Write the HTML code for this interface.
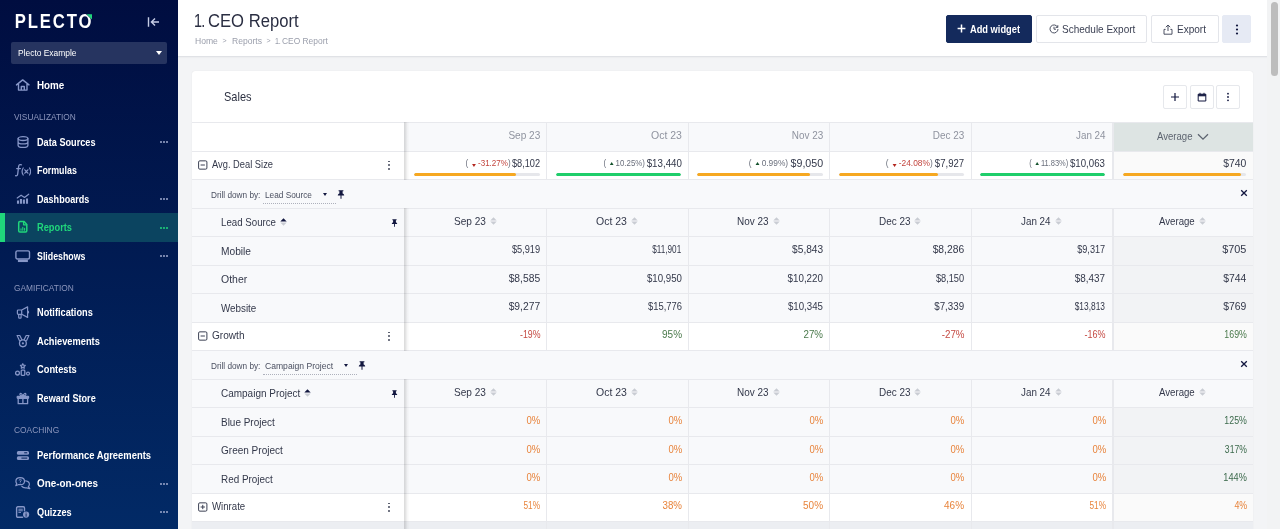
<!DOCTYPE html>
<html lang="en">
<head>
<meta charset="utf-8">
<title>1. CEO Report</title>
<style>
*{box-sizing:border-box;margin:0;padding:0}
html,body{width:1280px;height:529px;overflow:hidden;background:#f3f4f6;font-family:"Liberation Sans",sans-serif;color:#2d3142}
.abs{position:absolute}
#side{position:absolute;left:0;top:0;width:178px;height:529px;background:linear-gradient(180deg,#000d40 0%,#022a66 100%);color:#fff}
#side .logo{position:absolute;left:15px;top:10px;font-size:19px;font-weight:bold;letter-spacing:2.2px;line-height:22px;color:#fff}
#side .sel{position:absolute;left:11px;top:42px;width:156px;height:22px;background:#263460;border-radius:2px;font-size:9px;line-height:22px;padding-left:7px;color:#fff;letter-spacing:-0.2px}
#side .sel:after{content:"";position:absolute;right:5px;top:9px;border:3.5px solid transparent;border-top:4px solid #fff}
.nav{position:absolute;left:0;width:178px;height:28.5px;line-height:28.5px;font-size:10.5px;font-weight:bold;color:#fff;padding-left:37px;letter-spacing:-0.35px;white-space:nowrap}
.nav.act{background:#0b4460;color:#20d67b}
.nav.act:before{content:"";position:absolute;left:0;top:0;width:4.6px;height:28.5px;background:#20d67b}
.nav .dots{position:absolute;left:159.5px;top:13.3px;width:9px;height:2px;display:flex;gap:1.2px}
.nav .dots i{display:block;width:2px;height:2px;border-radius:1px;background:#9ea8cc}
.nav.act .dots i{background:#20d67b}
.nav svg{position:absolute;left:15px;top:6px;width:16px;height:16px;fill:none;stroke:#8797c8;stroke-width:1.3;stroke-linecap:round;stroke-linejoin:round}
.nav.act svg{stroke:#20d67b}
.sec{position:absolute;left:14px;font-size:9.3px;color:#8d97bd;letter-spacing:-0.3px;line-height:12px}
#top{position:absolute;left:178px;top:0;width:1089px;height:57px;background:#fff;border-bottom:1px solid #e0e2e6;box-shadow:0 1px 1px rgba(0,0,0,.025)}
#top h1{position:absolute;left:17px;top:10px;font-size:18px;font-weight:normal;line-height:22px;color:#2a2e42;letter-spacing:-0.3px}
#top .bc{position:absolute;left:17px;top:35px;font-size:9px;line-height:12px;color:#9a9eab;letter-spacing:0;white-space:nowrap}
.btn{position:absolute;top:14.5px;height:28px;border:1px solid #e3e5ea;border-radius:2px;background:#fff;font-size:11px;line-height:26px;color:#3a3f52;text-align:center;white-space:nowrap}
#scroll{position:absolute;left:1267px;top:0;width:13px;height:529px;background:#f2f3f4}
#scroll i{position:absolute;left:4.1px;top:2.2px;width:7.2px;height:74.2px;border-radius:4px;background:#bdbdbd}
#card{position:absolute;left:192px;top:71px;width:1061px;height:470px;background:#fff;border-radius:3px;box-shadow:0 0 1px rgba(0,0,0,.12)}
.row{position:absolute;left:0;width:1061px;border-top:1px solid #e8e9ed}
.vl{position:absolute;width:1px;background:#e8e9ed}
.t{position:absolute;font-size:10.5px;line-height:14px;white-space:nowrap;color:#33384a;letter-spacing:-0.3px}
.t.hd{color:#8f939f}
.t.hd2{color:#5d6470}
.t.v{font-size:10.5px}
.t.dd{font-size:9px;color:#4a4f60;letter-spacing:-0.3px}
.t.dl{font-size:8.5px;color:#6a6f7c}
.tri{display:inline-block;width:0;height:0;border:2.8px solid transparent;margin:0 2.5px 0 1.5px;position:relative}
.tri.dn{border-top:3.4px solid #b3261e;top:2.4px}
.tri.up{border-bottom:3.4px solid #14532d;top:-1px}
.kebab{position:absolute;width:2px;height:10px}
.kebab i{display:block;width:1.9px;height:1.9px;border-radius:1px;background:#454a5c;margin-bottom:1.9px}
.bar{position:absolute;height:3px;border-radius:2px;background:#e6e7eb;overflow:hidden}
.bar i{display:block;height:3px;border-radius:2px}
.cb{position:absolute;top:13.5px;width:24px;height:24px;border:1px solid #e6e8ec;border-radius:2px;background:#fff}
.cb svg{position:absolute;left:6px;top:6px}

span[id^=t]{display:inline-block;transform-origin:0 50%;white-space:nowrap}

</style>
</head>
<body>
<div id="side">
<svg class="abs" style="left:13.800px;top:9.700px" width="84" height="24" viewBox="0 0 84 24"><text transform="translate(.8 18.400) scale(.86 1)" font-family="Liberation Sans, sans-serif" font-weight="bold" font-size="19.400" letter-spacing="2.150" fill="#fff">PLECTO</text><path d="M71.500 3.400h7.200v7.200z" fill="#010f43"/><path d="M72.600 4.200h5.400v5.400z" fill="#20d67b"/></svg>
<svg class="abs" style="left:147px;top:16px" width="13" height="12" viewBox="0 0 13 12"><path d="M1.500 1.200v9.600M12 6H4.600M8 2.400L4.400 6 8 9.600" fill="none" stroke="#c6cde6" stroke-width="1.400"/></svg>
<div class="sel"><span id="t1" style=";letter-spacing:0;transform:scaleX(0.9355)">Plecto Example</span></div>
<div class="nav" style="top:70.75px"><svg viewBox="0 0 16 16"><path d="M1.500 7.900L7.700 2.900l6.300 5M3.500 7v6.100h8.500V7M6.300 13V9.500h3v3.500" stroke-width="1.400"/></svg><span id="t2" style=";letter-spacing:0;transform:scaleX(0.9353)">Home</span></div>
<div class="sec" style="top:111.3px"><span id="t3" style=";letter-spacing:0;transform:scaleX(0.8948)">VISUALIZATION</span></div>
<div class="nav" style="top:127.75px"><svg viewBox="0 0 16 16"><ellipse cx="8" cy="4.600" rx="4.900" ry="1.900"/><path d="M3.100 4.600v6.800c0 1.100 2.200 1.900 4.900 1.900s4.900-.8 4.900-1.900V4.600M3.100 8c0 1.100 2.200 1.900 4.900 1.900s4.900-.8 4.900-1.900"/></svg><span id="t4" style=";letter-spacing:0;transform:scaleX(0.8715)">Data Sources</span><span class="dots"><i></i><i></i><i></i></span></div>
<div class="nav" style="top:156.25px"><svg viewBox="0 0 16 16"><path d="M6.400 2.800c-1.700-.7-2.600.2-2.800 1.800L2.700 12c-.2 1.500-1 2.100-2.100 1.700M1.700 6.600h3.700" stroke-width="1.300"/><path d="M8.200 6c-1.300 2-1.300 5 0 7M14.500 6c1.300 2 1.300 5 0 7M9.800 7.800l3.100 3.400M12.900 7.800l-3.100 3.400" stroke-width="1.200"/></svg><span id="t5" style=";letter-spacing:0;transform:scaleX(0.8420)">Formulas</span></div>
<div class="nav" style="top:184.75px"><svg viewBox="0 0 16 16"><path d="M2.200 7l3.900-2.800 3.400 2.200 4.200-3.200" stroke-width="1.200"/><path d="M3 9.600v3.200M5.950 8v4.800M8.900 8.600v4.200M12 7.500v5.300" stroke-width="2.100" stroke-linecap="butt"/></svg><span id="t6" style=";letter-spacing:0;transform:scaleX(0.8618)">Dashboards</span><span class="dots"><i></i><i></i><i></i></span></div>
<div class="nav act" style="top:213.25px"><svg viewBox="0 0 16 16"><path d="M3.700 3.800c0-.7.500-1.200 1.200-1.200h4.200l2.700 2.800v6.400c0 .7-.5 1.200-1.200 1.200H4.900c-.7 0-1.200-.5-1.200-1.200z" stroke-width="1.500"/><path d="M8.600 2.800v3h3" stroke-width="1.300"/><path d="M6 11.300V9.800M7.800 11.300V8.400M9.600 11.300v-1.900" stroke-width="1.100"/></svg><span id="t7" style=";letter-spacing:0;transform:scaleX(0.8819)">Reports</span><span class="dots"><i></i><i></i><i></i></span></div>
<div class="nav" style="top:241.75px"><svg viewBox="0 0 16 16"><rect x=".9" y="2.850" width="13.600" height="8.200" rx="1.500" stroke-width="1.400"/><path d="M2.900 12.900h10" stroke-width="2.300" stroke-linecap="butt"/></svg><span id="t8" style=";letter-spacing:0;transform:scaleX(0.8396)">Slideshows</span><span class="dots"><i></i><i></i><i></i></span></div>
<div class="sec" style="top:282.3px"><span id="t9" style=";letter-spacing:0;transform:scaleX(0.8997)">GAMIFICATION</span></div>
<div class="nav" style="top:298.25px"><svg viewBox="0 0 16 16"><path d="M3.200 6h3.500v4.300H3.200c-.5 0-.8-.3-.8-.8V6.800c0-.5.300-.8.800-.8zM6.700 6l5.900-3.100v10.500L6.700 10.300M3.700 10.500v3.100c0 .4.300.6.600.6h1.200c.4 0 .6-.2.600-.6v-3.100M12.800 7.200c1 .1 1 1.800 0 1.900" stroke-width="1.200"/></svg><span id="t10" style=";letter-spacing:0;transform:scaleX(0.8774)">Notifications</span></div>
<div class="nav" style="top:326.75px"><svg viewBox="0 0 16 16"><circle cx="7.900" cy="10.350" r="3.400" stroke-width="1.300"/><path d="M2.100 2.500h2.700l2 3.900M13.900 2.500h-2.700l-2 3.900M2.100 2.500l2.300 5M13.900 2.500l-2.300 5" stroke-width="1.200"/><circle cx="7.900" cy="10.350" r="1.100" fill="#8797c8" stroke="none"/></svg><span id="t11" style=";letter-spacing:0;transform:scaleX(0.8820)">Achievements</span></div>
<div class="nav" style="top:355.25px"><svg viewBox="0 0 16 16"><path d="M7.800 2.700l.75 1.500 1.650.25-1.200 1.150.3 1.650L7.800 6.450 6.300 7.250l.3-1.650L5.400 4.450l1.650-.25z" stroke-width="1.200"/><rect x="6.200" y="9.100" width="3.600" height="5.300" rx=".8" stroke-width="1.300"/><circle cx="2.500" cy="12.100" r="1.900" stroke-width="1.300"/><circle cx="13" cy="12.600" r="1.500" stroke-width="1.200"/></svg><span id="t12" style=";letter-spacing:0;transform:scaleX(0.8857)">Contests</span></div>
<div class="nav" style="top:383.75px"><svg viewBox="0 0 16 16"><rect x="2.200" y="6.300" width="11.400" height="2" rx=".5" stroke-width="1.200" fill="#8797c8"/><path d="M3.200 8.300v5.400h9.400V8.300M7.900 6.300v7.400" stroke-width="1.300"/><path d="M7.900 6.100C6 6.100 4.700 5.300 4.900 4.200 5.100 3 6.800 2.800 7.900 6.100zM7.900 6.100c1.900 0 3.200-.8 3-1.900C10.700 3 9 2.800 7.900 6.100z" stroke-width="1.200"/></svg><span id="t13" style=";letter-spacing:0;transform:scaleX(0.8672)">Reward Store</span></div>
<div class="sec" style="top:424.3px"><span id="t14" style=";letter-spacing:0;transform:scaleX(0.9020)">COACHING</span></div>
<div class="nav" style="top:440.75px"><svg viewBox="0 0 16 16"><rect x="1.900" y="3.950" width="12.100" height="3.700" rx="1.500" fill="#8797c8" stroke="none"/><rect x="1.900" y="9.250" width="12.100" height="3.700" rx="1.500" fill="#8797c8" stroke="none"/><path d="M9.600 5.800h2.200M6.800 11.100h5" stroke="#02205a" stroke-width="1"/></svg><span id="t15" style=";letter-spacing:0;transform:scaleX(0.8947)">Performance Agreements</span></div>
<div class="nav" style="top:469.25px"><svg viewBox="0 0 16 16"><path d="M.9 6.200c0-2 1.900-3.500 4.300-3.500s4.300 1.500 4.300 3.500-1.900 3.500-4.300 3.500c-.6 0-1.100-.1-1.600-.2L.8 10.700l.9-2.200C1.200 7.900.9 7.100.9 6.200z" stroke-width="1.200"/><path d="M10.600 5.800c2.100.2 3.800 1.700 3.800 3.500 0 1-.4 1.800-1.100 2.400l1.500 2-3.300-.9c-.4.100-.8.100-1.200.1-1.600 0-2.900-.7-3.600-1.700" stroke-width="1.200"/><path d="M4.200 5.200c0-.6.500-1 1.100-1s1.100.4 1 1c-.1.700-1.100.8-1.100 1.500M5.200 7.900v.1" stroke-width=".9"/></svg><span id="t16" style=";letter-spacing:0;transform:scaleX(0.9421)">One-on-ones</span><span class="dots"><i></i><i></i><i></i></span></div>
<div class="nav" style="top:497.75px"><svg viewBox="0 0 16 16"><path d="M7.600 13.300H2.800c-.7 0-1.200-.5-1.200-1.200V4c0-.7.500-1.200 1.200-1.200h5.500c.7 0 1.200.5 1.200 1.200v2.800" stroke-width="1.400"/><path d="M3.800 5.200h3.600M3.800 6.800h3.600M3.800 8.400h1.800" stroke-width="1"/><circle cx="11.100" cy="10.600" r="3.100" fill="#8797c8" stroke="none"/><path d="M11.100 9v.1M11.100 10.300v2" stroke="#02205a" stroke-width=".9"/></svg><span id="t17" style=";letter-spacing:0;transform:scaleX(0.8743)">Quizzes</span><span class="dots"><i></i><i></i><i></i></span></div>
</div>
<div id="top">
<h1><span id="t18" style="position:absolute;left:-1.100px;letter-spacing:-1.100px;transform:scaleX(.8)">1.</span><span id="t19" style="position:absolute;left:12.800px;letter-spacing:0;transform:scaleX(0.9240)">CEO Report</span></h1>
<div class="bc"><span id="t20" style="position:absolute;left:0;letter-spacing:0;transform:scaleX(0.9535)">Home</span><span id="t21" style="position:absolute;left:27.500px;font-size:7px">&gt;</span><span id="t22" style="position:absolute;left:37px;letter-spacing:0;transform:scaleX(0.9519)">Reports</span><span id="t23" style="position:absolute;left:71.500px;font-size:7px">&gt;</span><span id="t24" style="position:absolute;left:80.200px;letter-spacing:-.4px;transform:scaleX(.8)">1.</span><span id="t25" style="position:absolute;left:86.900px;letter-spacing:0;transform:scaleX(0.9341)">CEO Report</span></div>
<div class="btn" style="left:767.500px;width:86.500px;background:#142a5c;border-color:#142a5c;color:#fff;font-weight:bold"><svg class="abs" style="left:10px;top:8.500px" width="9" height="9" viewBox="0 0 9 9"><path d="M4.500 .6v7.800M.6 4.500h7.800" stroke="#fff" stroke-width="1.500" fill="none"/></svg><span id="t26" style="position:absolute;left:23.800px;top:0;letter-spacing:0;transform:scaleX(0.8434)">Add widget</span></div>
<div class="btn" style="left:858px;width:111px"><svg class="abs" style="left:12px;top:8.500px" width="10" height="10" viewBox="0 0 10 10"><path d="M8.600 3.200A4 4 0 1 0 9 5M5 2.800V5.200h2M8.800 1.200v2.200H6.600" stroke="#3a3f52" stroke-width=".9" fill="none"/></svg><span id="t27" style="position:absolute;left:24.700px;top:0;letter-spacing:0;transform:scaleX(0.9081)">Schedule Export</span></div>
<div class="btn" style="left:972.500px;width:68.500px"><svg class="abs" style="left:11.500px;top:8px" width="10" height="11" viewBox="0 0 10 11"><path d="M5 7V1.200M2.800 3.200L5 1l2.200 2.200M2.600 5.400H1v4.800h8V5.400H7.400" stroke="#3a3f52" stroke-width=".9" fill="none"/></svg><span id="t28" style="position:absolute;left:25.500px;top:0;letter-spacing:0;transform:scaleX(0.9120)">Export</span></div>
<div class="btn" style="left:1044px;width:28.500px;background:#e6eaf4;border-color:#e6eaf4"><svg class="abs" style="left:11.500px;top:8px" width="4" height="11" viewBox="0 0 4 11"><circle cx="2" cy="1.500" r="1.100" fill="#12173f"/><circle cx="2" cy="5.500" r="1.100" fill="#12173f"/><circle cx="2" cy="9.500" r="1.100" fill="#12173f"/></svg></div>
</div>
<div id="scroll"><i></i></div>
<div id="card">
<div class="t" style="left:32px;top:17.600px;font-size:13px;line-height:16px;color:#2d3142"><span id="t121" style=";letter-spacing:0;transform:scaleX(0.8453)">Sales</span></div>
<div class="cb" style="left:971px"><svg width="10" height="10" viewBox="0 0 10 10"><path d="M5 1v8M1 5h8" stroke="#12173f" stroke-width="1.200" fill="none"/></svg></div>
<div class="cb" style="left:997.800px"><svg width="10" height="10" viewBox="0 0 10 10"><path d="M1.200 2.200h7.600v6.800H1.200zM1.200 3.800h7.600M3 .8v1.800M7 .8v1.800" stroke="#12173f" stroke-width="1" fill="none"/><path d="M1.200 2.200h7.600v1.600H1.200z" fill="#12173f"/></svg></div>
<div class="cb" style="left:1024px"><svg width="10" height="10" viewBox="0 0 10 10"><circle cx="5" cy="1.700" r=".9" fill="#12173f"/><circle cx="5" cy="5" r=".9" fill="#12173f"/><circle cx="5" cy="8.300" r=".9" fill="#12173f"/></svg></div>

<div class="row" style="top:51.0px;height:28.5px;background:#f8f9fb"></div>
<div class="abs" style="left:0;top:52.0px;width:212px;height:27.5px;background:#fff"></div>
<div class="abs" style="left:921.9000000000001px;top:52.0px;width:139.0999999999999px;height:27.5px;background:#dde4e3"></div>
<div class="vl" style="left:354.1px;top:51.0px;height:28.5px"></div>
<div class="vl" style="left:495.6px;top:51.0px;height:28.5px"></div>
<div class="vl" style="left:637.1px;top:51.0px;height:28.5px"></div>
<div class="vl" style="left:778.6px;top:51.0px;height:28.5px"></div>
<div class="vl" style="left:920.1px;top:51.0px;height:28.5px;width:1.800px"></div>
<div id="t29" class="t hd" style="right:712.6px;transform-origin:100% 50%;top:57.0px;;letter-spacing:0;transform:scaleX(0.9585)">Sep 23</div>
<div id="t30" class="t hd" style="right:571.2px;transform-origin:100% 50%;top:57.0px;;letter-spacing:0;transform:scaleX(0.9988)">Oct 23</div>
<div id="t31" class="t hd" style="right:429.9000000000001px;transform-origin:100% 50%;top:57.0px;;letter-spacing:0;transform:scaleX(0.9465)">Nov 23</div>
<div id="t32" class="t hd" style="right:288.6px;transform-origin:100% 50%;top:57.0px;;letter-spacing:0;transform:scaleX(0.9465)">Dec 23</div>
<div id="t33" class="t hd" style="right:147.4000000000001px;transform-origin:100% 50%;top:57.0px;;letter-spacing:0;transform:scaleX(0.9356)">Jan 24</div>
<div id="t34" class="t hd2" style="left:965px;transform-origin:0 50%;top:57.80000000000001px;;letter-spacing:0;transform:scaleX(0.9121)">Average</div>
<svg class="abs" style="left:1004.5px;top:61.5px" width="12" height="8" viewBox="0 0 12 8"><path d="M1 1.200L6 6.200L11 1.200" fill="none" stroke="#5d6470" stroke-width="1.300"/></svg>
<div class="row" style="top:79.5px;height:28.5px;background:#fff"></div>
<div class="abs" style="left:921.9000000000001px;top:80.5px;width:139.0999999999999px;height:27.5px;background:#fafafa"></div>
<div class="vl" style="left:354.1px;top:79.5px;height:28.5px"></div>
<div class="vl" style="left:495.6px;top:79.5px;height:28.5px"></div>
<div class="vl" style="left:637.1px;top:79.5px;height:28.5px"></div>
<div class="vl" style="left:778.6px;top:79.5px;height:28.5px"></div>
<div class="vl" style="left:920.1px;top:79.5px;height:28.5px;width:1.800px"></div>
<svg class="abs" style="left:6px;top:88.6px" width="9.500" height="10" viewBox="0 0 9.500 10"><rect x=".6" y=".85" width="8.300" height="8.300" rx="1.200" fill="none" stroke="#3a3f52" stroke-width="1"/><g stroke="#3a3f52" stroke-width="1" fill="none"><path d="M2.600 5h4.300"/></g></svg>
<div id="t35" class="t nm" style="left:20px;transform-origin:0 50%;top:86.19999999999999px;;letter-spacing:0;transform:scaleX(0.8881)">Avg. Deal Size</div>
<div class="kebab" style="left:196px;top:89.5px"><i></i><i></i><i></i></div>
<div id="t36" class="t v" style="right:712.9px;transform-origin:100% 50%;top:84.9px;color:#33384a;letter-spacing:0;transform:scaleX(0.8778)">$8,102</div>
<div id="t37" class="t dl" style="right:742.7px;transform-origin:100% 50%;top:85.20000000000002px;;letter-spacing:0;transform:scaleX(0.9493)">( <span class="tri dn"></span><span style="color:#c3463f">-31.27%</span>)</div>
<div class="bar" style="left:222.0px;top:102.3px;width:125.89999999999998px"><i style="width:81.0%;background:#f6a821"></i></div>
<div id="t38" class="t v" style="right:571.5px;transform-origin:100% 50%;top:84.9px;color:#33384a;letter-spacing:0;transform:scaleX(0.9297)">$13,440</div>
<div id="t39" class="t dl" style="right:608.4px;transform-origin:100% 50%;top:85.20000000000002px;;letter-spacing:0;transform:scaleX(0.9245)">( <span class="tri up"></span><span style="color:#6a6f7c">10.25%</span>)</div>
<div class="bar" style="left:363.5px;top:102.3px;width:125.79999999999995px"><i style="width:100.0%;background:#1fce6b"></i></div>
<div id="t40" class="t v" style="right:430.20000000000005px;transform-origin:100% 50%;top:84.9px;color:#33384a;letter-spacing:0;transform:scaleX(1.0148)">$9,050</div>
<div id="t41" class="t dl" style="right:464.4000000000001px;transform-origin:100% 50%;top:85.20000000000002px;;letter-spacing:0;transform:scaleX(0.9837)">( <span class="tri up"></span><span style="color:#6a6f7c">0.99%</span>)</div>
<div class="bar" style="left:505.0px;top:102.3px;width:125.59999999999991px"><i style="width:90.0%;background:#f6a821"></i></div>
<div id="t42" class="t v" style="right:288.9px;transform-origin:100% 50%;top:84.9px;color:#33384a;letter-spacing:0;transform:scaleX(0.9121)">$7,927</div>
<div id="t43" class="t dl" style="right:319.79999999999995px;transform-origin:100% 50%;top:85.20000000000002px;;letter-spacing:0;transform:scaleX(0.9849)">( <span class="tri dn"></span><span style="color:#c3463f">-24.08%</span>)</div>
<div class="bar" style="left:646.5px;top:102.3px;width:125.39999999999998px"><i style="width:79.0%;background:#f6a821"></i></div>
<div id="t44" class="t v" style="right:147.70000000000005px;transform-origin:100% 50%;top:84.9px;color:#33384a;letter-spacing:0;transform:scaleX(0.9218)">$10,063</div>
<div id="t45" class="t dl" style="right:184.29999999999995px;transform-origin:100% 50%;top:85.20000000000002px;;letter-spacing:0;transform:scaleX(0.8814)">( <span class="tri up"></span><span style="color:#6a6f7c">11.83%</span>)</div>
<div class="bar" style="left:788.0px;top:102.3px;width:125.09999999999991px"><i style="width:100.0%;background:#1fce6b"></i></div>
<div id="t46" class="t v" style="right:6.400000000000091px;transform-origin:100% 50%;top:84.9px;color:#33384a;letter-spacing:0;transform:scaleX(0.9889)">$740</div>
<div class="bar" style="left:930.6999999999998px;top:102.3px;width:123.70000000000005px"><i style="width:96.0%;background:#f6a821"></i></div>
<div class="row" style="top:108.0px;height:28.5px;background:#f8f9fb"></div>
<div id="t47" class="t dd" style="left:19.19999999999999px;transform-origin:0 50%;top:117.0px;;letter-spacing:0;transform:scaleX(0.9143)">Drill down by:</div>
<div id="t48" class="t dd dsel" style="left:73px;transform-origin:0 50%;top:117.0px;;letter-spacing:0;transform:scaleX(0.9188)">Lead Source</div>
<div class="abs" style="left:71px;top:132.0px;width:73px;border-top:1px dotted #aeb1bc"></div>
<div class="abs" style="left:130.8px;top:122.2px;border:2.800px solid transparent;border-top:3.200px solid #12173f"></div>
<svg class="abs" style="left:145.0px;top:118.69999999999999px" width="8" height="9" viewBox="0 0 8 9"><path d="M1.600 .3h4.800v1H5.600v2.200c.9.400 1.500 1.100 1.600 2H4.500v3L4 9l-.5-.5v-3H.8c.1-.9.700-1.600 1.600-2V1.300H1.600z" fill="#12173f"/></svg>
<svg class="abs" style="left:1047.6px;top:117.9px" width="8" height="8" viewBox="0 0 8 8"><path d="M1.200 1.200L6.800 6.800M6.800 1.200L1.200 6.800" stroke="#12173f" stroke-width="1.300" fill="none"/></svg>
<div class="row" style="top:136.5px;height:28.5px;background:#f8f9fb"></div>
<div class="vl" style="left:354.1px;top:136.5px;height:28.5px"></div>
<div class="vl" style="left:495.6px;top:136.5px;height:28.5px"></div>
<div class="vl" style="left:637.1px;top:136.5px;height:28.5px"></div>
<div class="vl" style="left:778.6px;top:136.5px;height:28.5px"></div>
<div class="vl" style="left:920.1px;top:136.5px;height:28.5px;width:1.800px"></div>
<div id="t49" class="t nm" style="left:29.19999999999999px;transform-origin:0 50%;top:143.5px;;letter-spacing:0;transform:scaleX(0.9236)">Lead Source</div>
<svg class="abs" style="left:87.80000000000001px;top:146.3px" width="7" height="10" viewBox="0 0 7 10"><path d="M3.500 1.200L6.700 4.400H.3z" fill="#12173f"/><path d="M3.500 8.800L6.700 5.600H.3z" fill="#c9ccd3"/></svg>
<svg class="abs" style="left:199.3px;top:147.5px" width="7" height="8" viewBox="0 0 8 9"><path d="M1.600 .3h4.800v1H5.600v2.200c.9.400 1.500 1.100 1.600 2H4.500v3L4 9l-.5-.5v-3H.8c.1-.9.700-1.600 1.600-2V1.300H1.600z" fill="#12173f"/></svg>
<div id="t50" class="t nm" style="left:261.90000000000003px;transform-origin:0 50%;top:143.0px;;letter-spacing:0;transform:scaleX(0.9585)">Sep 23</div>
<svg class="abs" style="left:298.05px;top:145.0px" width="7" height="10" viewBox="0 0 7 10"><path d="M3.500 1.200L6.700 4.400H.3z" fill="#c9ccd3"/><path d="M3.500 8.800L6.700 5.600H.3z" fill="#c9ccd3"/></svg>
<div id="t51" class="t nm" style="left:403.9px;transform-origin:0 50%;top:143.0px;;letter-spacing:0;transform:scaleX(0.9988)">Oct 23</div>
<svg class="abs" style="left:439.04999999999995px;top:145.0px" width="7" height="10" viewBox="0 0 7 10"><path d="M3.500 1.200L6.700 4.400H.3z" fill="#c9ccd3"/><path d="M3.500 8.800L6.700 5.600H.3z" fill="#c9ccd3"/></svg>
<div id="t52" class="t nm" style="left:545.1px;transform-origin:0 50%;top:143.0px;;letter-spacing:0;transform:scaleX(0.9465)">Nov 23</div>
<svg class="abs" style="left:580.85px;top:145.0px" width="7" height="10" viewBox="0 0 7 10"><path d="M3.500 1.200L6.700 4.400H.3z" fill="#c9ccd3"/><path d="M3.500 8.800L6.700 5.600H.3z" fill="#c9ccd3"/></svg>
<div id="t53" class="t nm" style="left:686.6px;transform-origin:0 50%;top:143.0px;;letter-spacing:0;transform:scaleX(0.9465)">Dec 23</div>
<svg class="abs" style="left:722.35px;top:145.0px" width="7" height="10" viewBox="0 0 7 10"><path d="M3.500 1.200L6.700 4.400H.3z" fill="#c9ccd3"/><path d="M3.500 8.800L6.700 5.600H.3z" fill="#c9ccd3"/></svg>
<div id="t54" class="t nm" style="left:829.0999999999999px;transform-origin:0 50%;top:143.0px;;letter-spacing:0;transform:scaleX(0.9356)">Jan 24</div>
<svg class="abs" style="left:862.8499999999999px;top:145.0px" width="7" height="10" viewBox="0 0 7 10"><path d="M3.500 1.200L6.700 4.400H.3z" fill="#c9ccd3"/><path d="M3.500 8.800L6.700 5.600H.3z" fill="#c9ccd3"/></svg>
<div id="t55" class="t nm" style="left:967.2px;transform-origin:0 50%;top:143.0px;;letter-spacing:0;transform:scaleX(0.9172)">Average</div>
<svg class="abs" style="left:1007.1500000000001px;top:145.0px" width="7" height="10" viewBox="0 0 7 10"><path d="M3.500 1.200L6.700 4.400H.3z" fill="#c9ccd3"/><path d="M3.500 8.800L6.700 5.600H.3z" fill="#c9ccd3"/></svg>
<div class="row" style="top:165.0px;height:28.5px;background:#f8f9fb"></div>
<div class="abs" style="left:921.9000000000001px;top:166.0px;width:139.0999999999999px;height:27.5px;background:#f2f3f5"></div>
<div class="vl" style="left:354.1px;top:165.0px;height:28.5px"></div>
<div class="vl" style="left:495.6px;top:165.0px;height:28.5px"></div>
<div class="vl" style="left:637.1px;top:165.0px;height:28.5px"></div>
<div class="vl" style="left:778.6px;top:165.0px;height:28.5px"></div>
<div class="vl" style="left:920.1px;top:165.0px;height:28.5px;width:1.800px"></div>
<div id="t56" class="t nm" style="left:29px;transform-origin:0 50%;top:172.8px;;letter-spacing:0;transform:scaleX(0.9697)">Mobile</div>
<div id="t57" class="t v" style="right:712.9px;transform-origin:100% 50%;top:171.0px;color:#33384a;letter-spacing:0;transform:scaleX(0.8778)">$5,919</div>
<div id="t58" class="t v" style="right:571.5px;transform-origin:100% 50%;top:171.0px;color:#33384a;letter-spacing:0;transform:scaleX(0.7771)">$11,901</div>
<div id="t59" class="t v" style="right:430.20000000000005px;transform-origin:100% 50%;top:171.0px;color:#33384a;letter-spacing:0;transform:scaleX(0.9650)">$5,843</div>
<div id="t60" class="t v" style="right:288.9px;transform-origin:100% 50%;top:171.0px;color:#33384a;letter-spacing:0;transform:scaleX(0.9805)">$8,286</div>
<div id="t61" class="t v" style="right:147.70000000000005px;transform-origin:100% 50%;top:171.0px;color:#33384a;letter-spacing:0;transform:scaleX(0.8685)">$9,317</div>
<div id="t62" class="t v" style="right:6.400000000000091px;transform-origin:100% 50%;top:171.0px;color:#33384a;letter-spacing:0;transform:scaleX(1.0360)">$705</div>
<div class="row" style="top:193.5px;height:28.5px;background:#f8f9fb"></div>
<div class="abs" style="left:921.9000000000001px;top:194.5px;width:139.0999999999999px;height:27.5px;background:#f2f3f5"></div>
<div class="vl" style="left:354.1px;top:193.5px;height:28.5px"></div>
<div class="vl" style="left:495.6px;top:193.5px;height:28.5px"></div>
<div class="vl" style="left:637.1px;top:193.5px;height:28.5px"></div>
<div class="vl" style="left:778.6px;top:193.5px;height:28.5px"></div>
<div class="vl" style="left:920.1px;top:193.5px;height:28.5px;width:1.800px"></div>
<div id="t63" class="t nm" style="left:29px;transform-origin:0 50%;top:201.3px;;letter-spacing:0;transform:scaleX(0.9975)">Other</div>
<div id="t64" class="t v" style="right:712.9px;transform-origin:100% 50%;top:199.5px;color:#33384a;letter-spacing:0;transform:scaleX(0.9805)">$8,585</div>
<div id="t65" class="t v" style="right:571.5px;transform-origin:100% 50%;top:199.5px;color:#33384a;letter-spacing:0;transform:scaleX(0.9218)">$10,950</div>
<div id="t66" class="t v" style="right:430.20000000000005px;transform-origin:100% 50%;top:199.5px;color:#33384a;letter-spacing:0;transform:scaleX(0.9323)">$10,220</div>
<div id="t67" class="t v" style="right:288.9px;transform-origin:100% 50%;top:199.5px;color:#33384a;letter-spacing:0;transform:scaleX(0.8778)">$8,150</div>
<div id="t68" class="t v" style="right:147.70000000000005px;transform-origin:100% 50%;top:199.5px;color:#33384a;letter-spacing:0;transform:scaleX(0.9432)">$8,437</div>
<div id="t69" class="t v" style="right:6.400000000000091px;transform-origin:100% 50%;top:199.5px;color:#33384a;letter-spacing:0;transform:scaleX(0.9889)">$744</div>
<div class="row" style="top:222.0px;height:28.5px;background:#f8f9fb"></div>
<div class="abs" style="left:921.9000000000001px;top:223.0px;width:139.0999999999999px;height:27.5px;background:#f2f3f5"></div>
<div class="vl" style="left:354.1px;top:222.0px;height:28.5px"></div>
<div class="vl" style="left:495.6px;top:222.0px;height:28.5px"></div>
<div class="vl" style="left:637.1px;top:222.0px;height:28.5px"></div>
<div class="vl" style="left:778.6px;top:222.0px;height:28.5px"></div>
<div class="vl" style="left:920.1px;top:222.0px;height:28.5px;width:1.800px"></div>
<div id="t70" class="t nm" style="left:29px;transform-origin:0 50%;top:229.8px;;letter-spacing:0;transform:scaleX(0.9351)">Website</div>
<div id="t71" class="t v" style="right:712.9px;transform-origin:100% 50%;top:228.0px;color:#33384a;letter-spacing:0;transform:scaleX(0.9805)">$9,277</div>
<div id="t72" class="t v" style="right:571.5px;transform-origin:100% 50%;top:228.0px;color:#33384a;letter-spacing:0;transform:scaleX(0.8955)">$15,776</div>
<div id="t73" class="t v" style="right:430.20000000000005px;transform-origin:100% 50%;top:228.0px;color:#33384a;letter-spacing:0;transform:scaleX(0.9218)">$10,345</div>
<div id="t74" class="t v" style="right:288.9px;transform-origin:100% 50%;top:228.0px;color:#33384a;letter-spacing:0;transform:scaleX(0.9307)">$7,339</div>
<div id="t75" class="t v" style="right:147.70000000000005px;transform-origin:100% 50%;top:228.0px;color:#33384a;letter-spacing:0;transform:scaleX(0.7980)">$13,813</div>
<div id="t76" class="t v" style="right:6.400000000000091px;transform-origin:100% 50%;top:228.0px;color:#33384a;letter-spacing:0;transform:scaleX(0.9889)">$769</div>
<div class="row" style="top:250.5px;height:28.5px;background:#fff"></div>
<div class="abs" style="left:921.9000000000001px;top:251.5px;width:139.0999999999999px;height:27.5px;background:#fafafa"></div>
<div class="vl" style="left:354.1px;top:250.5px;height:28.5px"></div>
<div class="vl" style="left:495.6px;top:250.5px;height:28.5px"></div>
<div class="vl" style="left:637.1px;top:250.5px;height:28.5px"></div>
<div class="vl" style="left:778.6px;top:250.5px;height:28.5px"></div>
<div class="vl" style="left:920.1px;top:250.5px;height:28.5px;width:1.800px"></div>
<svg class="abs" style="left:6px;top:259.6px" width="9.500" height="10" viewBox="0 0 9.500 10"><rect x=".6" y=".85" width="8.300" height="8.300" rx="1.200" fill="none" stroke="#3a3f52" stroke-width="1"/><g stroke="#3a3f52" stroke-width="1" fill="none"><path d="M2.600 5h4.300"/></g></svg>
<div id="t77" class="t nm" style="left:20px;transform-origin:0 50%;top:257.2px;;letter-spacing:0;transform:scaleX(0.9603)">Growth</div>
<div class="kebab" style="left:196px;top:260.5px"><i></i><i></i><i></i></div>
<div id="t78" class="t v" style="right:712.5px;transform-origin:100% 50%;top:256.0px;color:#c54b44;letter-spacing:0;transform:scaleX(0.8362)">-19%</div>
<div id="t79" class="t v" style="right:571.1px;transform-origin:100% 50%;top:256.0px;color:#4b7a4c;letter-spacing:0;transform:scaleX(0.9517)">95%</div>
<div id="t80" class="t v" style="right:429.80000000000007px;transform-origin:100% 50%;top:256.0px;color:#4b7a4c;letter-spacing:0;transform:scaleX(0.9279)">27%</div>
<div id="t81" class="t v" style="right:288.5px;transform-origin:100% 50%;top:256.0px;color:#c54b44;letter-spacing:0;transform:scaleX(0.9300)">-27%</div>
<div id="t82" class="t v" style="right:147.29999999999995px;transform-origin:100% 50%;top:256.0px;color:#c54b44;letter-spacing:0;transform:scaleX(0.8566)">-16%</div>
<div id="t83" class="t v" style="right:6.0px;transform-origin:100% 50%;top:256.0px;color:#4b7a4c;letter-spacing:0;transform:scaleX(0.8377)">169%</div>
<div class="row" style="top:279.0px;height:28.5px;background:#f8f9fb"></div>
<div id="t84" class="t dd" style="left:19.19999999999999px;transform-origin:0 50%;top:288.0px;;letter-spacing:0;transform:scaleX(0.9143)">Drill down by:</div>
<div id="t85" class="t dd dsel" style="left:73px;transform-origin:0 50%;top:288.0px;;letter-spacing:0;transform:scaleX(0.9532)">Campaign Project</div>
<div class="abs" style="left:71px;top:303.0px;width:94px;border-top:1px dotted #aeb1bc"></div>
<div class="abs" style="left:151.8px;top:293.2px;border:2.800px solid transparent;border-top:3.200px solid #12173f"></div>
<svg class="abs" style="left:166.0px;top:289.7px" width="8" height="9" viewBox="0 0 8 9"><path d="M1.600 .3h4.800v1H5.600v2.200c.9.400 1.500 1.100 1.600 2H4.500v3L4 9l-.5-.5v-3H.8c.1-.9.700-1.600 1.600-2V1.300H1.600z" fill="#12173f"/></svg>
<svg class="abs" style="left:1047.6px;top:288.9px" width="8" height="8" viewBox="0 0 8 8"><path d="M1.200 1.200L6.800 6.800M6.800 1.200L1.200 6.800" stroke="#12173f" stroke-width="1.300" fill="none"/></svg>
<div class="row" style="top:307.5px;height:28.5px;background:#f8f9fb"></div>
<div class="vl" style="left:354.1px;top:307.5px;height:28.5px"></div>
<div class="vl" style="left:495.6px;top:307.5px;height:28.5px"></div>
<div class="vl" style="left:637.1px;top:307.5px;height:28.5px"></div>
<div class="vl" style="left:778.6px;top:307.5px;height:28.5px"></div>
<div class="vl" style="left:920.1px;top:307.5px;height:28.5px;width:1.800px"></div>
<div id="t86" class="t nm" style="left:29.19999999999999px;transform-origin:0 50%;top:314.5px;;letter-spacing:0;transform:scaleX(0.9501)">Campaign Project</div>
<svg class="abs" style="left:112.10000000000002px;top:317.3px" width="7" height="10" viewBox="0 0 7 10"><path d="M3.500 1.200L6.700 4.400H.3z" fill="#12173f"/><path d="M3.500 8.800L6.700 5.600H.3z" fill="#c9ccd3"/></svg>
<svg class="abs" style="left:199.3px;top:318.5px" width="7" height="8" viewBox="0 0 8 9"><path d="M1.600 .3h4.800v1H5.600v2.200c.9.400 1.500 1.100 1.600 2H4.500v3L4 9l-.5-.5v-3H.8c.1-.9.700-1.600 1.600-2V1.300H1.600z" fill="#12173f"/></svg>
<div id="t87" class="t nm" style="left:261.90000000000003px;transform-origin:0 50%;top:314.0px;;letter-spacing:0;transform:scaleX(0.9585)">Sep 23</div>
<svg class="abs" style="left:298.05px;top:316.0px" width="7" height="10" viewBox="0 0 7 10"><path d="M3.500 1.200L6.700 4.400H.3z" fill="#c9ccd3"/><path d="M3.500 8.800L6.700 5.600H.3z" fill="#c9ccd3"/></svg>
<div id="t88" class="t nm" style="left:403.9px;transform-origin:0 50%;top:314.0px;;letter-spacing:0;transform:scaleX(0.9988)">Oct 23</div>
<svg class="abs" style="left:439.04999999999995px;top:316.0px" width="7" height="10" viewBox="0 0 7 10"><path d="M3.500 1.200L6.700 4.400H.3z" fill="#c9ccd3"/><path d="M3.500 8.800L6.700 5.600H.3z" fill="#c9ccd3"/></svg>
<div id="t89" class="t nm" style="left:545.1px;transform-origin:0 50%;top:314.0px;;letter-spacing:0;transform:scaleX(0.9465)">Nov 23</div>
<svg class="abs" style="left:580.85px;top:316.0px" width="7" height="10" viewBox="0 0 7 10"><path d="M3.500 1.200L6.700 4.400H.3z" fill="#c9ccd3"/><path d="M3.500 8.800L6.700 5.600H.3z" fill="#c9ccd3"/></svg>
<div id="t90" class="t nm" style="left:686.6px;transform-origin:0 50%;top:314.0px;;letter-spacing:0;transform:scaleX(0.9465)">Dec 23</div>
<svg class="abs" style="left:722.35px;top:316.0px" width="7" height="10" viewBox="0 0 7 10"><path d="M3.500 1.200L6.700 4.400H.3z" fill="#c9ccd3"/><path d="M3.500 8.800L6.700 5.600H.3z" fill="#c9ccd3"/></svg>
<div id="t91" class="t nm" style="left:829.0999999999999px;transform-origin:0 50%;top:314.0px;;letter-spacing:0;transform:scaleX(0.9356)">Jan 24</div>
<svg class="abs" style="left:862.8499999999999px;top:316.0px" width="7" height="10" viewBox="0 0 7 10"><path d="M3.500 1.200L6.700 4.400H.3z" fill="#c9ccd3"/><path d="M3.500 8.800L6.700 5.600H.3z" fill="#c9ccd3"/></svg>
<div id="t92" class="t nm" style="left:967.2px;transform-origin:0 50%;top:314.0px;;letter-spacing:0;transform:scaleX(0.9172)">Average</div>
<svg class="abs" style="left:1007.1500000000001px;top:316.0px" width="7" height="10" viewBox="0 0 7 10"><path d="M3.500 1.200L6.700 4.400H.3z" fill="#c9ccd3"/><path d="M3.500 8.800L6.700 5.600H.3z" fill="#c9ccd3"/></svg>
<div class="row" style="top:336.0px;height:28.5px;background:#f8f9fb"></div>
<div class="abs" style="left:921.9000000000001px;top:337.0px;width:139.0999999999999px;height:27.5px;background:#f2f3f5"></div>
<div class="vl" style="left:354.1px;top:336.0px;height:28.5px"></div>
<div class="vl" style="left:495.6px;top:336.0px;height:28.5px"></div>
<div class="vl" style="left:637.1px;top:336.0px;height:28.5px"></div>
<div class="vl" style="left:778.6px;top:336.0px;height:28.5px"></div>
<div class="vl" style="left:920.1px;top:336.0px;height:28.5px;width:1.800px"></div>
<div id="t93" class="t nm" style="left:29px;transform-origin:0 50%;top:343.8px;;letter-spacing:0;transform:scaleX(0.9483)">Blue Project</div>
<div id="t94" class="t v" style="right:712.5px;transform-origin:100% 50%;top:342.0px;color:#e8843c;letter-spacing:0;transform:scaleX(0.9086)">0%</div>
<div id="t95" class="t v" style="right:571.1px;transform-origin:100% 50%;top:342.0px;color:#e8843c;letter-spacing:0;transform:scaleX(0.9086)">0%</div>
<div id="t96" class="t v" style="right:429.80000000000007px;transform-origin:100% 50%;top:342.0px;color:#e8843c;letter-spacing:0;transform:scaleX(0.9086)">0%</div>
<div id="t97" class="t v" style="right:288.5px;transform-origin:100% 50%;top:342.0px;color:#e8843c;letter-spacing:0;transform:scaleX(0.9086)">0%</div>
<div id="t98" class="t v" style="right:147.29999999999995px;transform-origin:100% 50%;top:342.0px;color:#e8843c;letter-spacing:0;transform:scaleX(0.9086)">0%</div>
<div id="t99" class="t v" style="right:6.0px;transform-origin:100% 50%;top:342.0px;color:#3c6a4c;letter-spacing:0;transform:scaleX(0.8377)">125%</div>
<div class="row" style="top:364.5px;height:28.5px;background:#f8f9fb"></div>
<div class="abs" style="left:921.9000000000001px;top:365.5px;width:139.0999999999999px;height:27.5px;background:#f2f3f5"></div>
<div class="vl" style="left:354.1px;top:364.5px;height:28.5px"></div>
<div class="vl" style="left:495.6px;top:364.5px;height:28.5px"></div>
<div class="vl" style="left:637.1px;top:364.5px;height:28.5px"></div>
<div class="vl" style="left:778.6px;top:364.5px;height:28.5px"></div>
<div class="vl" style="left:920.1px;top:364.5px;height:28.5px;width:1.800px"></div>
<div id="t100" class="t nm" style="left:29px;transform-origin:0 50%;top:372.3px;;letter-spacing:0;transform:scaleX(0.9540)">Green Project</div>
<div id="t101" class="t v" style="right:712.5px;transform-origin:100% 50%;top:370.5px;color:#e8843c;letter-spacing:0;transform:scaleX(0.9086)">0%</div>
<div id="t102" class="t v" style="right:571.1px;transform-origin:100% 50%;top:370.5px;color:#e8843c;letter-spacing:0;transform:scaleX(0.9086)">0%</div>
<div id="t103" class="t v" style="right:429.80000000000007px;transform-origin:100% 50%;top:370.5px;color:#e8843c;letter-spacing:0;transform:scaleX(0.9086)">0%</div>
<div id="t104" class="t v" style="right:288.5px;transform-origin:100% 50%;top:370.5px;color:#e8843c;letter-spacing:0;transform:scaleX(0.9086)">0%</div>
<div id="t105" class="t v" style="right:147.29999999999995px;transform-origin:100% 50%;top:370.5px;color:#e8843c;letter-spacing:0;transform:scaleX(0.9086)">0%</div>
<div id="t106" class="t v" style="right:6.0px;transform-origin:100% 50%;top:370.5px;color:#3c6a4c;letter-spacing:0;transform:scaleX(0.8191)">317%</div>
<div class="row" style="top:393.0px;height:28.5px;background:#f8f9fb"></div>
<div class="abs" style="left:921.9000000000001px;top:394.0px;width:139.0999999999999px;height:27.5px;background:#f2f3f5"></div>
<div class="vl" style="left:354.1px;top:393.0px;height:28.5px"></div>
<div class="vl" style="left:495.6px;top:393.0px;height:28.5px"></div>
<div class="vl" style="left:637.1px;top:393.0px;height:28.5px"></div>
<div class="vl" style="left:778.6px;top:393.0px;height:28.5px"></div>
<div class="vl" style="left:920.1px;top:393.0px;height:28.5px;width:1.800px"></div>
<div id="t107" class="t nm" style="left:29px;transform-origin:0 50%;top:400.8px;;letter-spacing:0;transform:scaleX(0.9424)">Red Project</div>
<div id="t108" class="t v" style="right:712.5px;transform-origin:100% 50%;top:399.0px;color:#e8843c;letter-spacing:0;transform:scaleX(0.9086)">0%</div>
<div id="t109" class="t v" style="right:571.1px;transform-origin:100% 50%;top:399.0px;color:#e8843c;letter-spacing:0;transform:scaleX(0.9086)">0%</div>
<div id="t110" class="t v" style="right:429.80000000000007px;transform-origin:100% 50%;top:399.0px;color:#e8843c;letter-spacing:0;transform:scaleX(0.9086)">0%</div>
<div id="t111" class="t v" style="right:288.5px;transform-origin:100% 50%;top:399.0px;color:#e8843c;letter-spacing:0;transform:scaleX(0.9086)">0%</div>
<div id="t112" class="t v" style="right:147.29999999999995px;transform-origin:100% 50%;top:399.0px;color:#e8843c;letter-spacing:0;transform:scaleX(0.9086)">0%</div>
<div id="t113" class="t v" style="right:6.0px;transform-origin:100% 50%;top:399.0px;color:#3c6a4c;letter-spacing:0;transform:scaleX(0.8749)">144%</div>
<div class="row" style="top:421.5px;height:28.5px;background:#fff"></div>
<div class="abs" style="left:921.9000000000001px;top:422.5px;width:139.0999999999999px;height:27.5px;background:#fafafa"></div>
<div class="vl" style="left:354.1px;top:421.5px;height:28.5px"></div>
<div class="vl" style="left:495.6px;top:421.5px;height:28.5px"></div>
<div class="vl" style="left:637.1px;top:421.5px;height:28.5px"></div>
<div class="vl" style="left:778.6px;top:421.5px;height:28.5px"></div>
<div class="vl" style="left:920.1px;top:421.5px;height:28.5px;width:1.800px"></div>
<svg class="abs" style="left:6px;top:430.6px" width="9.500" height="10" viewBox="0 0 9.500 10"><rect x=".6" y=".85" width="8.300" height="8.300" rx="1.200" fill="none" stroke="#3a3f52" stroke-width="1"/><g stroke="#3a3f52" stroke-width="1" fill="none"><path d="M2.600 5h4.300M4.750 2.850v4.300"/></g></svg>
<div id="t114" class="t nm" style="left:20px;transform-origin:0 50%;top:428.2px;;letter-spacing:0;transform:scaleX(0.9174)">Winrate</div>
<div class="kebab" style="left:196px;top:431.5px"><i></i><i></i><i></i></div>
<div id="t115" class="t v" style="right:712.5px;transform-origin:100% 50%;top:427.0px;color:#e8843c;letter-spacing:0;transform:scaleX(0.7851)">51%</div>
<div id="t116" class="t v" style="right:571.1px;transform-origin:100% 50%;top:427.0px;color:#e8843c;letter-spacing:0;transform:scaleX(0.9279)">38%</div>
<div id="t117" class="t v" style="right:429.80000000000007px;transform-origin:100% 50%;top:427.0px;color:#e8843c;letter-spacing:0;transform:scaleX(0.9517)">50%</div>
<div id="t118" class="t v" style="right:288.5px;transform-origin:100% 50%;top:427.0px;color:#e8843c;letter-spacing:0;transform:scaleX(0.9517)">46%</div>
<div id="t119" class="t v" style="right:147.29999999999995px;transform-origin:100% 50%;top:427.0px;color:#e8843c;letter-spacing:0;transform:scaleX(0.7851)">51%</div>
<div id="t120" class="t v" style="right:6.0px;transform-origin:100% 50%;top:427.0px;color:#e8843c;letter-spacing:0;transform:scaleX(0.8428)">4%</div>
<div class="row" style="top:450.0px;height:28.5px;background:#eceef2"></div>
<div class="vl" style="left:354.1px;top:450.0px;height:28.5px"></div>
<div class="vl" style="left:495.6px;top:450.0px;height:28.5px"></div>
<div class="vl" style="left:637.1px;top:450.0px;height:28.5px"></div>
<div class="vl" style="left:778.6px;top:450.0px;height:28.5px"></div>
<div class="vl" style="left:920.1px;top:450.0px;height:28.5px;width:1.800px"></div>
<div class="abs" style="left:212px;top:51px;width:5px;height:420px;background:linear-gradient(90deg,rgba(0,0,0,0.135) 0%,rgba(0,0,0,0.135) 20%,rgba(0,0,0,0.105) 20%,rgba(0,0,0,0.105) 40%,rgba(0,0,0,0.065) 40%,rgba(0,0,0,0.065) 60%,rgba(0,0,0,0.03) 60%,rgba(0,0,0,0.03) 80%,rgba(0,0,0,0.015) 80%,rgba(0,0,0,0.015) 100%)"></div>
<div class="abs" style="left:208px;top:109.0px;width:12px;height:27.500px;background:#f8f9fb"></div>
<div class="abs" style="left:208px;top:280.0px;width:12px;height:27.500px;background:#f8f9fb"></div>
</div>
</body>
</html>
